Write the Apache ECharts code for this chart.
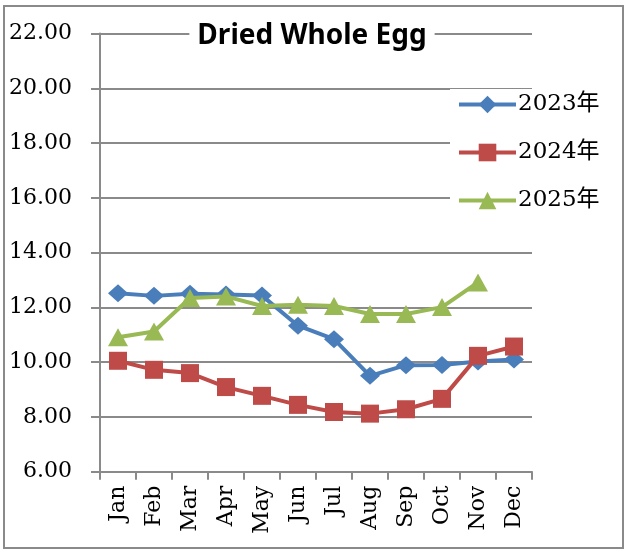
<!DOCTYPE html>
<html>
<head>
<meta charset="utf-8">
<script src="https://cdn.jsdelivr.net/npm/echarts@6/dist/echarts.min.js"></script>
<style>
html, body { margin: 0; padding: 0; background: #fff; }
#chart { width: 624px; height: 550px; }
</style>
</head>
<body>
<div id="chart"></div>
<script>
// 月份
var months = ['Jan', 'Feb', 'Mar', 'Apr', 'May', 'Jun', 'Jul', 'Aug', 'Sep', 'Oct', 'Nov', 'Dec'];
var seriesNames = ['2023年', '2024年', '2025年'];
// 价格
var data2023 = [12.52, 12.42, 12.5, 12.47, 12.43, 11.33, 10.84, 9.5, 9.89, 9.9, 10.02, 10.1];
var data2024 = [10.05, 9.72, 9.6, 9.09, 8.77, 8.44, 8.18, 8.12, 8.28, 8.66, 10.23, 10.57];
var data2025 = [10.91, 11.12, 12.34, 12.4, 12.05, 12.1, 12.05, 11.76, 11.76, 12.01, 12.91, null];
var yMin = 6, yMax = 22, yStep = 2;

var serif = '"DejaVu Serif", "Noto Sans CJK SC", serif';
var gray = '#8a8a8a';

var myChart = echarts.init(document.getElementById('chart'));
var option = {
    animation: false,
    backgroundColor: '#fff',
    title: {
        text: 'Dried Whole Egg',
        left: 'center',
        top: 20,
        padding: [2, 8],
        backgroundColor: '#fff',
        textStyle: {
            fontFamily: '"Noto Sans", sans-serif',
            fontWeight: 'bold',
            fontSize: 28,
            color: '#000'
        }
    },
    legend: {
        orient: 'vertical',
        left: 450,
        top: 89,
        padding: [4, 6, 4, 7],
        itemGap: 25,
        itemWidth: 57,
        itemHeight: 22,
        backgroundColor: '#fff',
        data: seriesNames,
        lineStyle: { width: 4 },
        textStyle: {
            fontFamily: serif,
            fontSize: 23,
            color: '#000',
            padding: [0, 0, 0, -3]
        }
    },
    graphic: [{
        type: 'rect',
        shape: { x: 4, y: 6, width: 619, height: 542 },
        style: { fill: 'none', stroke: gray, lineWidth: 2 },
        z: -1
    }],
    grid: {
        left: 100,
        right: 92,
        top: 33.5,
        bottom: 78.3
    },
    xAxis: {
        type: 'category',
        data: months,
        boundaryGap: true,
        axisLine: { lineStyle: { color: gray, width: 2 } },
        axisTick: { show: true, length: 8, alignWithLabel: false, lineStyle: { color: gray, width: 2 } },
        axisLabel: {
            rotate: 90,
            margin: 14,
            interval: 0,
            fontFamily: serif,
            fontSize: 22,
            color: '#000'
        },
        splitLine: { show: false }
    },
    yAxis: {
        type: 'value',
        min: yMin,
        max: yMax,
        interval: yStep,
        axisLine: { show: true, lineStyle: { color: gray, width: 2 } },
        axisTick: { show: true, length: 9, lineStyle: { color: gray, width: 2 } },
        axisLabel: {
            margin: 28,
            fontFamily: serif,
            fontSize: 22,
            color: '#000',
            formatter: function (v) { return v.toFixed(2); }
        },
        splitLine: { show: true, lineStyle: { color: gray, width: 2 } }
    },
    series: [
        {
            name: seriesNames[0],
            type: 'line',
            data: data2023,
            symbol: 'diamond',
            symbolSize: [20, 18],
            lineStyle: { color: '#4a7ebb', width: 4 },
            itemStyle: { color: '#4a7ebb' },
            z: 2
        },
        {
            name: seriesNames[1],
            type: 'line',
            data: data2024,
            symbol: 'rect',
            symbolSize: 18,
            lineStyle: { color: '#be4b48', width: 4 },
            itemStyle: { color: '#be4b48' },
            z: 3
        },
        {
            name: seriesNames[2],
            type: 'line',
            data: data2025,
            symbol: 'triangle',
            symbolSize: [20, 18],
            lineStyle: { color: '#98b954', width: 4 },
            itemStyle: { color: '#98b954' },
            z: 4
        }
    ]
};
myChart.setOption(option);
</script>
</body>
</html>
